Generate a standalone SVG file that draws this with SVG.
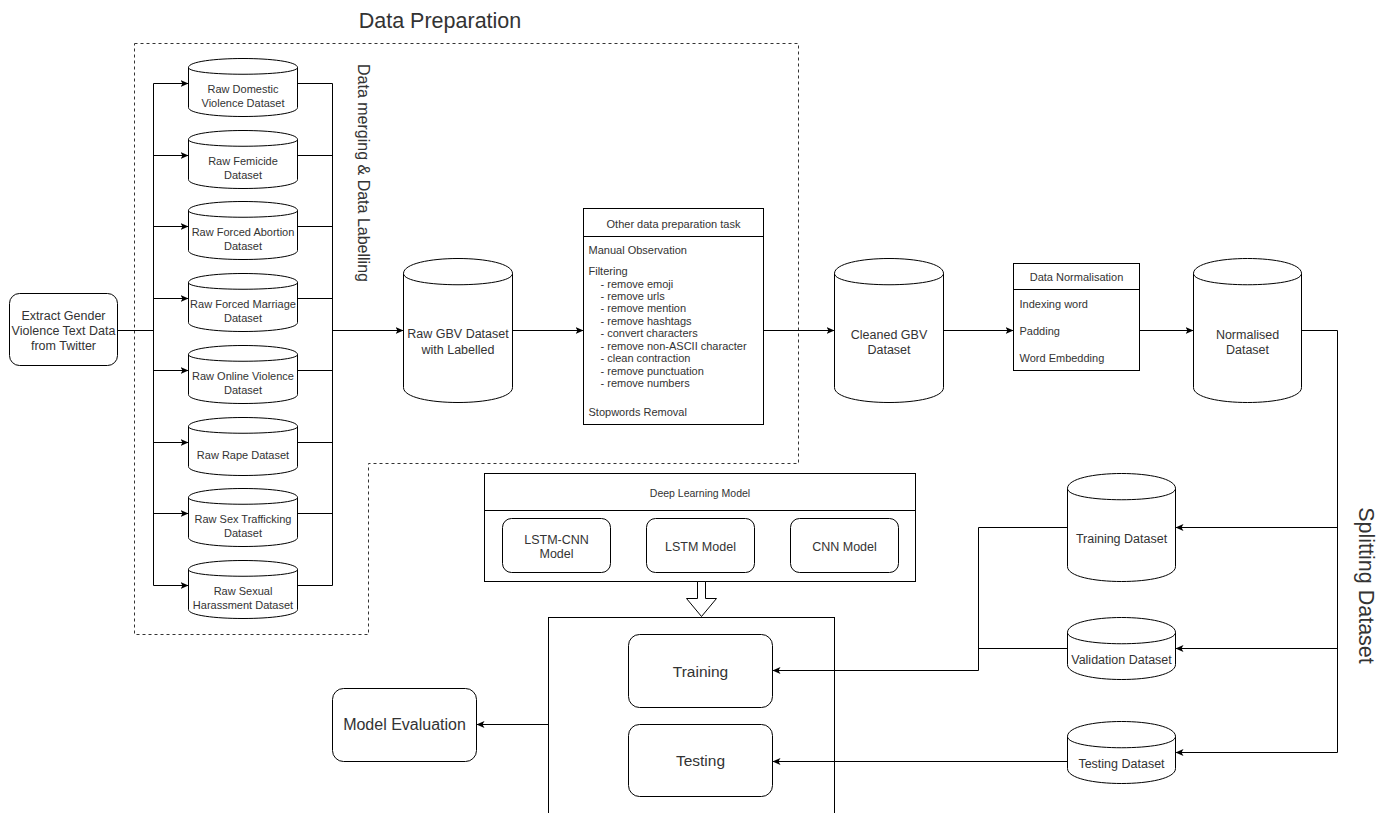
<svg xmlns="http://www.w3.org/2000/svg" width="1388" height="813" viewBox="0 0 1388 813">
<style>
text{font-family:"Liberation Sans",Arial,sans-serif;fill:#333}
.s{fill:#fff;stroke:#000;stroke-width:1}
.n{fill:none;stroke:#000;stroke-width:1}
.c{fill:none;stroke:#000;stroke-width:1}
.t11{font-size:11px}
.t12{font-size:12.5px}
.m{text-anchor:middle}
</style>
<defs>
<marker id="a" markerUnits="userSpaceOnUse" markerWidth="10" markerHeight="10" refX="8" refY="3.5" orient="auto">
<path d="M0,0 L8,3.5 L0,7 L2,3.5 Z" fill="#000"/>
</marker>
</defs>
<g transform="translate(0.5,0.5)">
<g id="data-preparation">
<path d="M134,43 H798 V463 H368 V634 H134 Z" fill="none" stroke="#333" stroke-dasharray="3,3"/>
<text x="439.5" y="27" class="m" style="font-size:21.5px">Data Preparation</text>
<text transform="translate(363,172.5) rotate(90)" x="0" y="5.6" class="m" style="font-size:16px">Data merging &amp; Data Labelling</text>
</g>
<g id="extract">
<rect x="9" y="293" width="108" height="72" rx="10" class="s"/>
<text x="63" y="319.4" class="m t12">Extract Gender</text>
<text x="63" y="334.4" class="m t12">Violence Text Data</text>
<text x="63" y="349.4" class="m t12">from Twitter</text>
</g>
<g id="raw-domestic">
<path class="s" d="M188,67 C188,55 297,55 297,67 L297,107 C297,119 188,119 188,107 Z"/><path class="n" d="M188,67 C188,76 297,76 297,67"/>
<text x="242.5" y="92" class="m t11">Raw Domestic</text><text x="242.5" y="106" class="m t11">Violence Dataset</text>
</g>
<g id="raw-femicide">
<path class="s" d="M188,139 C188,127 297,127 297,139 L297,179 C297,191 188,191 188,179 Z"/><path class="n" d="M188,139 C188,148 297,148 297,139"/>
<text x="242.5" y="164" class="m t11">Raw Femicide</text><text x="242.5" y="178" class="m t11">Dataset</text>
</g>
<g id="raw-abortion">
<path class="s" d="M188,210 C188,198 297,198 297,210 L297,250 C297,262 188,262 188,250 Z"/><path class="n" d="M188,210 C188,219 297,219 297,210"/>
<text x="242.5" y="235" class="m t11">Raw Forced Abortion</text><text x="242.5" y="249" class="m t11">Dataset</text>
</g>
<g id="raw-marriage">
<path class="s" d="M188,282 C188,270 297,270 297,282 L297,322 C297,334 188,334 188,322 Z"/><path class="n" d="M188,282 C188,291 297,291 297,282"/>
<text x="242.5" y="307" class="m t11">Raw Forced Marriage</text><text x="242.5" y="321" class="m t11">Dataset</text>
</g>
<g id="raw-online">
<path class="s" d="M188,354 C188,342 297,342 297,354 L297,394 C297,406 188,406 188,394 Z"/><path class="n" d="M188,354 C188,363 297,363 297,354"/>
<text x="242.5" y="379" class="m t11">Raw Online Violence</text><text x="242.5" y="393" class="m t11">Dataset</text>
</g>
<g id="raw-rape">
<path class="s" d="M188,426 C188,414 297,414 297,426 L297,466 C297,478 188,478 188,466 Z"/><path class="n" d="M188,426 C188,435 297,435 297,426"/>
<text x="242.5" y="458" class="m t11">Raw Rape Dataset</text>
</g>
<g id="raw-trafficking">
<path class="s" d="M188,497 C188,485 297,485 297,497 L297,537 C297,549 188,549 188,537 Z"/><path class="n" d="M188,497 C188,506 297,506 297,497"/>
<text x="242.5" y="522" class="m t11">Raw Sex Trafficking</text><text x="242.5" y="536" class="m t11">Dataset</text>
</g>
<g id="raw-harassment">
<path class="s" d="M188,569 C188,557 297,557 297,569 L297,609 C297,621 188,621 188,609 Z"/><path class="n" d="M188,569 C188,578 297,578 297,569"/>
<text x="242.5" y="594" class="m t11">Raw Sexual</text><text x="242.5" y="608" class="m t11">Harassment Dataset</text>
</g>
<g id="raw-gbv">
<path class="s" d="M403,273 C403,253 512,253 512,273 L512,387 C512,407 403,407 403,387 Z"/><path class="n" d="M403,273 C403,288 512,288 512,273"/>
<text x="457.5" y="337.5" class="m t12">Raw GBV Dataset</text><text x="457.5" y="353.5" class="m t12">with Labelled</text>
</g>
<g id="other-task">
<rect x="583" y="208" width="180" height="216" class="s"/>
<path class="n" d="M583,236 H763"/>
<text x="673" y="227" class="m t11">Other data preparation task</text>
<text x="588" y="253" class="t11">Manual Observation</text>
<text x="588" y="274" class="t11">Filtering</text>
<text x="600" y="287" class="t11">- remove emoji</text>
<text x="600" y="299" class="t11">- remove urls</text>
<text x="600" y="311.5" class="t11">- remove mention</text>
<text x="600" y="324" class="t11">- remove hashtags</text>
<text x="600" y="336.5" class="t11">- convert characters</text>
<text x="600" y="349" class="t11">- remove non-ASCII character</text>
<text x="600" y="361.5" class="t11">- clean contraction</text>
<text x="600" y="374" class="t11">- remove punctuation</text>
<text x="600" y="386.5" class="t11">- remove numbers</text>
<text x="588" y="415" class="t11">Stopwords Removal</text>
</g>
<g id="cleaned-gbv">
<path class="s" d="M834,273 C834,253 943,253 943,273 L943,387 C943,407 834,407 834,387 Z"/><path class="n" d="M834,273 C834,288 943,288 943,273"/>
<text x="888.5" y="338" class="m t12">Cleaned GBV</text><text x="888.5" y="353.5" class="m t12">Dataset</text>
</g>
<g id="data-normalisation">
<rect x="1013" y="263" width="126" height="107" class="s"/>
<path class="n" d="M1013,289 H1139"/>
<text x="1076" y="280" class="m t11">Data Normalisation</text>
<text x="1019" y="307" class="t11">Indexing word</text>
<text x="1019" y="334" class="t11">Padding</text>
<text x="1019" y="361" class="t11">Word Embedding</text>
</g>
<g id="normalised">
<path class="s" d="M1193,273 C1193,253 1301,253 1301,273 L1301,387 C1301,407 1193,407 1193,387 Z"/><path class="n" d="M1193,273 C1193,288 1301,288 1301,273"/>
<text x="1247" y="338" class="m t12">Normalised</text><text x="1247" y="353.5" class="m t12">Dataset</text>
</g>
<g id="splitting-label">
<text transform="translate(1366,585) rotate(90)" x="0" y="7.5" class="m" style="font-size:21.5px">Splitting Dataset</text>
</g>
<g id="training-dataset">
<path class="s" d="M1067,488 C1067,468 1175,468 1175,488 L1175,566 C1175,586 1067,586 1067,566 Z"/><path class="n" d="M1067,488 C1067,503 1175,503 1175,488"/>
<text x="1121" y="542.5" class="m t12">Training Dataset</text>
</g>
<g id="validation-dataset">
<path class="s" d="M1067,632 C1067,612 1175,612 1175,632 L1175,664 C1175,684 1067,684 1067,664 Z"/><path class="n" d="M1067,632 C1067,647 1175,647 1175,632"/>
<text x="1121" y="663.5" class="m t12">Validation Dataset</text>
</g>
<g id="testing-dataset">
<path class="s" d="M1067,736 C1067,716 1175,716 1175,736 L1175,768 C1175,788 1067,788 1067,768 Z"/><path class="n" d="M1067,736 C1067,751 1175,751 1175,736"/>
<text x="1121" y="767.5" class="m t12">Testing Dataset</text>
</g>
<g id="deep-learning-model">
<rect x="484" y="473" width="431" height="108" class="s"/>
<path class="n" d="M484,510 H915"/>
<text x="699.5" y="496" class="m" style="font-size:10.5px">Deep Learning Model</text>
<rect x="502" y="518" width="108" height="54" rx="9" class="s"/>
<text x="556" y="543.5" class="m t12">LSTM-CNN</text><text x="556" y="557.5" class="m t12">Model</text>
<rect x="646" y="518" width="108" height="54" rx="9" class="s"/>
<text x="700" y="550.4" class="m t12">LSTM Model</text>
<rect x="790" y="518" width="108" height="54" rx="9" class="s"/>
<text x="844" y="550.4" class="m t12">CNN Model</text>
</g>
<g id="model-stage">
<rect x="548" y="617" width="286" height="220" class="n"/>
<rect x="628" y="634" width="144" height="73" rx="11" class="s"/>
<text x="700" y="676.5" class="m" style="font-size:15.5px">Training</text>
<rect x="628" y="724" width="144" height="72" rx="11" class="s"/>
<text x="700" y="765.5" class="m" style="font-size:15.5px">Testing</text>
</g>
<g id="model-evaluation">
<rect x="332" y="688" width="144" height="73" rx="11" class="s"/>
<text x="404" y="729.6" class="m" style="font-size:16px">Model Evaluation</text>
</g>
<g id="connectors">
<path class="c" d="M117,330 H153 M153,83 V585"/>
<path class="c" marker-end="url(#a)" d="M153,83 H188"/>
<path class="c" marker-end="url(#a)" d="M153,155 H188"/>
<path class="c" marker-end="url(#a)" d="M153,226 H188"/>
<path class="c" marker-end="url(#a)" d="M153,298 H188"/>
<path class="c" marker-end="url(#a)" d="M153,370 H188"/>
<path class="c" marker-end="url(#a)" d="M153,442 H188"/>
<path class="c" marker-end="url(#a)" d="M153,513 H188"/>
<path class="c" marker-end="url(#a)" d="M153,585 H188"/>
<path class="c" d="M297,83 H332 M297,155 H332 M297,226 H332 M297,298 H332 M297,370 H332 M297,442 H332 M297,513 H332 M297,585 H332 M332,83 V585"/>
<path class="c" marker-end="url(#a)" d="M332,330 H403"/>
<path class="c" marker-end="url(#a)" d="M512,330 H583"/>
<path class="c" marker-end="url(#a)" d="M763,330 H834"/>
<path class="c" marker-end="url(#a)" d="M943,330 H1013"/>
<path class="c" marker-end="url(#a)" d="M1139,330 H1193"/>
<path class="c" d="M1301,330 H1337 V752"/>
<path class="c" marker-end="url(#a)" d="M1337,527 H1175"/>
<path class="c" marker-end="url(#a)" d="M1337,648 H1175"/>
<path class="c" marker-end="url(#a)" d="M1337,752 H1175"/>
<path class="c" marker-end="url(#a)" d="M1067,527 H978 V670 H772"/>
<path class="c" d="M1067,648 H978"/>
<path class="c" marker-end="url(#a)" d="M1067,761 H772"/>
<path class="c" marker-end="url(#a)" d="M548,724 H476"/>
<path class="s" d="M697,581 H705 V598 H716 L701,616 L686,598 H697 Z"/>
</g>
</g>
</svg>
